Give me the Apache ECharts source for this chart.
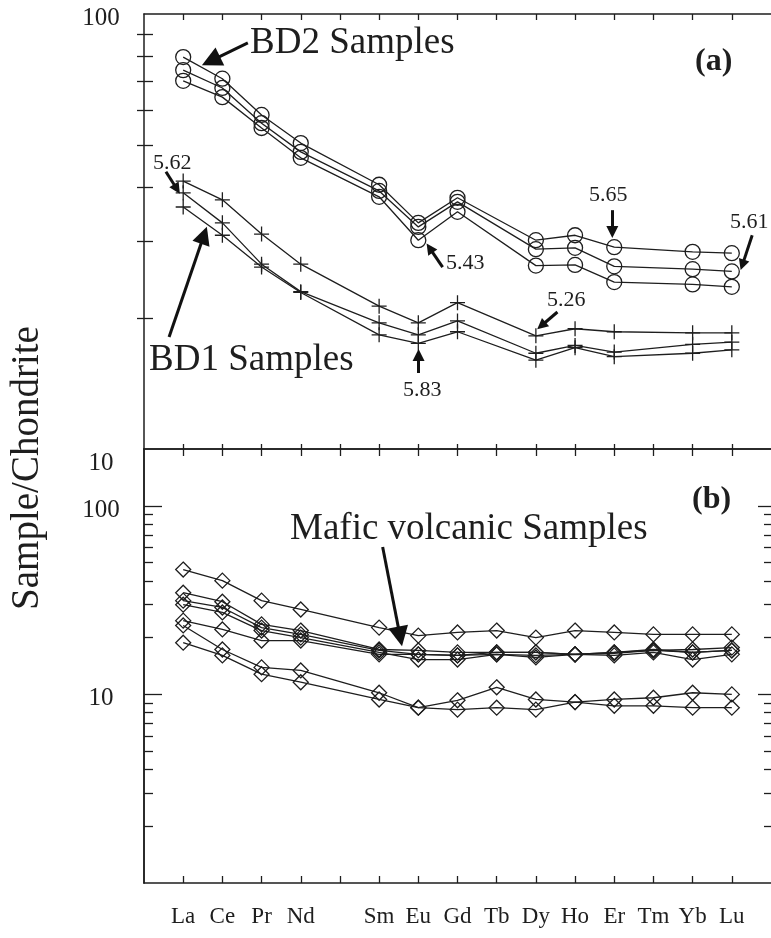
<!DOCTYPE html>
<html>
<head>
<meta charset="utf-8">
<script src="https://cdn.jsdelivr.net/npm/echarts@6/dist/echarts.min.js"></script>
<style>
  html, body { margin: 0; padding: 0; background: #fff; }
  #chart { width: 771px; height: 938px; }
</style>
</head>
<body>
<div id="chart"></div>
<script>
// REE order (Pm is kept as an empty slot on the axis)
const ree = ["La", "Ce", "Pr", "Nd", "Pm", "Sm", "Eu", "Gd", "Tb", "Dy", "Ho", "Er", "Tm", "Yb", "Lu"];
const unlabeled = ["Pm"];

// (a) BD2 samples - circles (no Tb / Tm analysed)
const bd2a = [79.6, 71.0, 58.6, 50.5, null, 40.5, 33.1, 37.8, null, 30.2, 31.0, 29.1, null, 28.4, 28.2];
const bd2b = [74.3, 67.6, 56.1, 48.2, null, 39.2, 32.4, 37.0, null, 28.8, 29.0, 26.3, null, 25.9, 25.6];
const bd2c = [70.2, 64.4, 54.7, 46.7, null, 38.0, 30.2, 35.1, null, 26.4, 26.5, 24.2, null, 23.9, 23.6];

// (a) BD1 samples - crosses
const bd1a = [41.3, 37.4, 31.2, 26.6, null, 21.3, 19.5, 21.7, null, 18.2, 18.9, 18.6, null, 18.5, 18.5];
const bd1b = [38.8, 33.1, 26.6, 23.0, null, 19.5, 18.3, 19.7, null, 16.6, 17.3, 16.7, null, 17.4, 17.6];
const bd1c = [36.0, 31.0, 26.2, 22.9, null, 18.3, 17.5, 18.6, null, 16.0, 17.1, 16.3, null, 16.6, 16.9];

// (b) mafic volcanic samples - diamonds
const maf1 = [45.9, 40.1, 31.4, 28.2, null, 22.6, 20.5, 21.3, 21.8, 20.0, 21.8, 21.3, 20.8, 20.8, 20.8];
const maf2 = [34.6, 31.0, 23.5, 21.8, null, 17.3, 17.1, 16.7, 16.7, 16.7, 16.3, 16.7, 17.1, 17.3, 17.7];
const maf3 = [31.4, 28.9, 22.6, 20.8, null, 17.1, 16.3, 16.1, 16.3, 16.1, 16.3, 16.5, 17.1, 16.7, 17.1];
const maf4 = [29.9, 27.2, 21.8, 20.0, null, 16.7, 15.3, 15.3, 16.3, 15.7, 16.3, 16.1, 16.7, 15.3, 16.3];
const maf5 = [24.6, 22.1, 19.3, 19.3, null, 16.3, 16.3, 16.1, 16.7, 16.7, 16.3, 16.7, 17.3, 16.7, 17.1];
const maf6 = [23.2, 17.3, 13.9, 13.4, null, 10.2, 8.5, 9.3, 10.9, 9.4, 9.1, 9.4, 9.6, 10.2, 10.0];
const maf7 = [18.8, 16.1, 12.8, 11.6, null, 9.4, 8.5, 8.3, 8.5, 8.3, 9.1, 8.7, 8.7, 8.5, 8.5];

// y ticks
const yLabelsA = [10, 100];
const yMinorA = [20, 30, 40, 50, 60, 70, 80, 90];
const yLabelsB = [10, 100];
const yMinorB = [2, 3, 4, 5, 6, 7, 8, 9, 20, 30, 40, 50, 60, 70, 80, 90];

// annotation arrows: [tail, head] in data units, head size
const arrowsA = [
  [[2.65, 85.8], [1.707, 78.0], 20],
  [[0.56, 43.4], [0.84, 39.6], 11],
  [[0.64, 18.1], [1.529, 31.0], 18],
  [[7.006, 14.95], [7.006, 16.45], 12],
  [[7.62, 26.2], [7.29, 28.97], 11],
  [[11.95, 35.4], [11.95, 31.55], 12],
  [[15.52, 31.0], [15.27, 26.5], 11],
  [[10.55, 20.65], [10.14, 19.2], 11]
];
const arrowsB = [
  [[6.09, 60.4], [6.535, 20.3], 20]
];

const FONT = '"Liberation Serif", "Times New Roman", serif';
const INK = "#1e1e1e";
const PLUS = "path://M6.4,0H7.6V6.4H14V7.6H7.6V14H6.4V7.6H0V6.4H6.4Z";
const xTicks = ree.map((r, i) => i + 1);
const xLabelVals = ree.map((r, i) => i + 1).filter((v) => unlabeled.indexOf(ree[v - 1]) < 0);

function pts(vals) {
  return ree.map((r, i) => [i + 1, vals[i]]).filter((p) => p[1] != null);
}

function line(vals, symbol, size, xi, yi, solid) {
  return {
    type: "line",
    xAxisIndex: xi,
    yAxisIndex: yi,
    data: pts(vals),
    symbol: symbol,
    symbolSize: size,
    showAllSymbol: true,
    silent: true,
    lineStyle: { color: INK, width: 1.3 },
    itemStyle: solid
      ? { color: INK, borderWidth: 0 }
      : { color: "transparent", borderColor: INK, borderWidth: 1.3 },
    emphasis: { disabled: true },
  };
}

function arrowMarks(list) {
  return {
    silent: true,
    animation: false,
    label: { show: false },
    lineStyle: { color: "#111", width: 3, type: "solid" },
    emphasis: { disabled: true },
    data: list.map((a) => [
      { coord: a[0], symbol: "none" },
      { coord: a[1], symbol: "triangle", symbolSize: a[2] },
    ]),
  };
}

const frame = { show: true, lineStyle: { color: INK, width: 1.5 } };

function xAxis(grid, pos, len, labels) {
  return {
    type: "value",
    gridIndex: grid,
    position: pos,
    min: 0,
    max: 16,
    axisLine: frame,
    splitLine: { show: false },
    axisTick: { show: true, inside: true, length: len, customValues: xTicks, lineStyle: { color: INK, width: 1.3 } },
    axisLabel: labels
      ? {
          show: true,
          customValues: xLabelVals,
          formatter: (v) => ree[v - 1],
          fontFamily: FONT,
          fontSize: 23,
          color: INK,
          margin: 22,
        }
      : { show: false },
  };
}

function yAxis(grid, pos, min, max, ticks, len, labels, farVal) {
  return {
    type: "log",
    logBase: 10,
    gridIndex: grid,
    position: pos,
    min: min,
    max: max,
    axisLine: pos === "left" ? frame : { show: false },
    splitLine: { show: false },
    minorTick: { show: false },
    axisTick: { show: true, inside: true, length: len, customValues: ticks, lineStyle: { color: INK, width: 1.3 } },
    axisLabel: labels
      ? {
          show: true,
          customValues: labels,
          align: "center",
          margin: 43,
          formatter: (v) => (v === farVal ? "{far|" + v + "}" : "{near|" + v + "}"),
          rich: {
            near: { fontFamily: FONT, fontSize: 25, color: INK, padding: [9, 0, 0, 0] },
            far: { fontFamily: FONT, fontSize: 25, color: INK, padding: [28, 0, 0, 0] },
          },
        }
      : { show: false },
  };
}

function txt(x, y, s, size, bold) {
  return {
    type: "text",
    x: x,
    y: y,
    silent: true,
    style: {
      text: s,
      font: (bold ? "bold " : "") + size + "px " + FONT,
      fill: INK,
      verticalAlign: "middle",
    },
  };
}

const chart = echarts.init(document.getElementById("chart"), null, { renderer: "canvas" });

const seriesA = [
  line(bd2a, "circle", 15, 0, 0),
  line(bd2b, "circle", 15, 0, 0),
  line(bd2c, "circle", 15, 0, 0),
  line(bd1a, PLUS, 15, 0, 0, true),
  line(bd1b, PLUS, 15, 0, 0, true),
  line(bd1c, PLUS, 15, 0, 0, true),
];
seriesA[0].markLine = arrowMarks(arrowsA);

const seriesB = [maf1, maf2, maf3, maf4, maf5, maf6, maf7].map((m) => line(m, "diamond", 15, 2, 2));
seriesB[0].markLine = arrowMarks(arrowsB);

chart.setOption({
  animation: false,
  backgroundColor: "#fff",
  grid: [
    { left: 144, top: 14, width: 628, height: 435 },
    { left: 144, top: 449, width: 628, height: 434 },
  ],
  xAxis: [
    xAxis(0, "bottom", 5, false),
    xAxis(0, "top", 6, false),
    xAxis(1, "bottom", 7, true),
    xAxis(1, "top", 7, false),
  ],
  yAxis: [
    yAxis(0, "left", 10, 100, yMinorA, 9, yLabelsA, 10),
    yAxis(0, "right", 10, 100, yMinorA, 7, null),
    yAxis(1, "left", 1, 200, yLabelsB, 18, yLabelsB, null),
    yAxis(1, "left", 1, 200, yMinorB, 9, null),
    yAxis(1, "right", 1, 200, yLabelsB, 13, null),
    yAxis(1, "right", 1, 200, yMinorB, 7, null),
  ],
  series: seriesA.concat(seriesB),
  graphic: [
    {
      type: "text",
      x: 28,
      y: 468,
      rotation: Math.PI / 2,
      silent: true,
      style: {
        text: "Sample/Chondrite",
        font: "39px " + FONT,
        fill: INK,
        align: "center",
        verticalAlign: "middle",
      },
    },
    txt(250, 43, "BD2 Samples", 37),
    txt(695, 62, "(a)", 32, true),
    txt(153, 163, "5.62", 22),
    txt(149, 360, "BD1 Samples", 37),
    txt(403, 390, "5.83", 22),
    txt(446, 263, "5.43", 22),
    txt(589, 195, "5.65", 22),
    txt(730, 222, "5.61", 22),
    txt(547, 300, "5.26", 22),
    txt(692, 500, "(b)", 32, true),
    txt(290, 529, "Mafic volcanic Samples", 37),
  ],
});
</script>
</body>
</html>
